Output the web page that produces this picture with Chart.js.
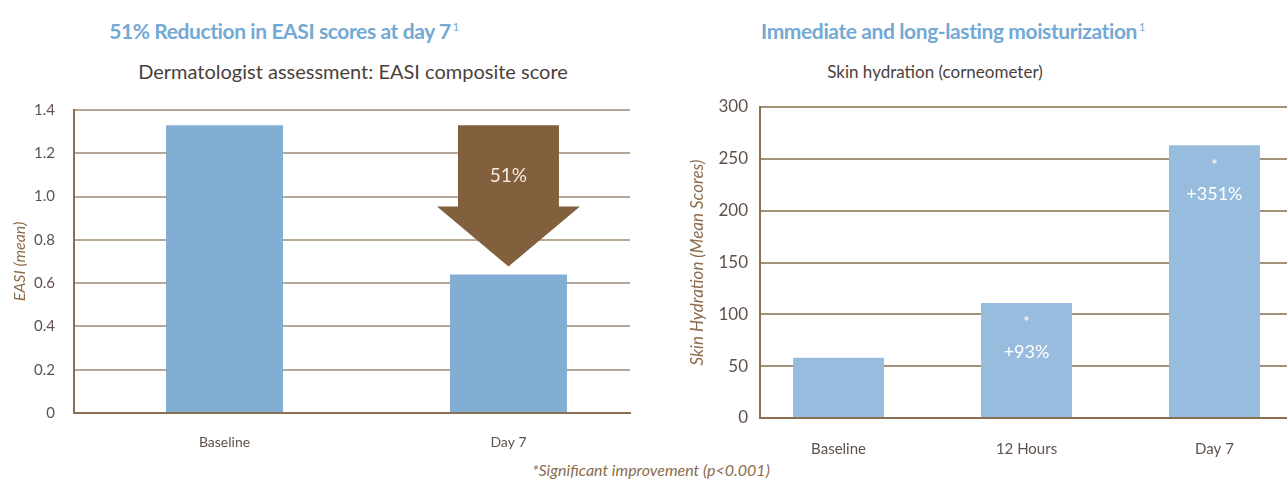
<!DOCTYPE html>
<html>
<head>
<meta charset="utf-8">
<script src="https://cdn.jsdelivr.net/npm/chart.js@4.4.1/dist/chart.umd.min.js"></script>
<style>
  body { margin: 0; background: #fff; width: 1287px; height: 479px; position: relative; overflow: hidden; font-family: Lato, "Open Sans", sans-serif; }
  .cv { position: absolute; top: 0; }
  .ttl { position: absolute; transform: translate(-50%, -50%); white-space: nowrap; color: #73a9d4; font-weight: bold; font-size: 21px; letter-spacing: -0.4px; }
  .ttl sup { font-size: 11px; font-weight: normal; vertical-align: 8px; margin-left: 2px; }
  .sub { position: absolute; transform: translate(-50%, -50%); white-space: nowrap; color: #4b3f3b; font-size: 20px; }
  .note { position: absolute; transform: translate(-50%, -50%); white-space: nowrap; color: #8b6b4c; font-size: 16px; font-style: italic; }
</style>
</head>
<body>
<div class="ttl" style="left:284px;top:30px">51% Reduction in EASI scores at day 7<sup>1</sup></div>
<div class="sub" style="left:353px;top:71px">Dermatologist assessment: EASI composite score</div>
<div class="ttl" style="left:953px;top:30px">Immediate and long-lasting moisturization<sup>1</sup></div>
<div class="sub" style="left:935px;top:71px;font-size:17px">Skin hydration (corneometer)</div>
<div class="note" style="left:651px;top:469px">*Significant improvement (p&lt;0.001)</div>

<div class="cv" style="left:0;width:640px;height:479px"><canvas id="easi"></canvas></div>
<div class="cv" style="left:640px;width:647px;height:479px"><canvas id="idra"></canvas></div>

<script>
// dati
var easiLabels = ['Baseline', 'Day 7'];
var easiValues = [1.33, 0.64];
var easiReduction = '51%';

var idraLabels = ['Baseline', '12 Hours', 'Day 7'];
var idraValues = [58, 111, 263];
var idraIncrease = ['', '+93%', '+351%'];
var idraStar = ['', '*', '*'];

var brown = '#8b6f52';
var tickColor = '#5f524c';

// freccia marrone sopra la barra Day 7
var arrowPlugin = {
    id: 'arrow',
    afterDatasetsDraw: function(chart) {
        var x = chart.scales.x, y = chart.scales.y, ctx = chart.ctx;
        var cx = x.getPixelForValue(1);
        var top = y.getPixelForValue(easiValues[0]);
        var tip = y.getPixelForValue(easiValues[1]) - 8;
        var neck = top + (tip - top) * 0.575;
        ctx.save();
        ctx.fillStyle = '#82603e';
        ctx.beginPath();
        ctx.moveTo(cx - 50.5, top);
        ctx.lineTo(cx + 50.5, top);
        ctx.lineTo(cx + 50.5, neck);
        ctx.lineTo(cx + 71.5, neck);
        ctx.lineTo(cx, tip);
        ctx.lineTo(cx - 71.5, neck);
        ctx.lineTo(cx - 50.5, neck);
        ctx.closePath();
        ctx.fill();
        ctx.fillStyle = '#f3ece4';
        ctx.font = '19px Lato';
        ctx.textAlign = 'center';
        ctx.textBaseline = 'middle';
        ctx.fillText(easiReduction, cx, top + 51);
        ctx.restore();
    }
};

// etichette bianche dentro le barre
var labelPlugin = {
    id: 'labels',
    afterDatasetsDraw: function(chart) {
        var x = chart.scales.x, y = chart.scales.y, ctx = chart.ctx;
        ctx.save();
        ctx.fillStyle = '#ffffff';
        ctx.textAlign = 'center';
        ctx.textBaseline = 'middle';
        for (var i = 0; i < idraValues.length; i++) {
            var cx = x.getPixelForValue(i);
            var top = y.getPixelForValue(idraValues[i]);
            ctx.font = '16px Lato';
            ctx.fillText(idraStar[i], cx, top + 19);
            ctx.font = '18px Lato';
            ctx.fillText(idraIncrease[i], cx, top + 49);
        }
        ctx.restore();
    }
};

function creaGrafico(id, labels, values, opts) {
    var punti = [];
    for (var i = 0; i < values.length; i++) {
        punti.push({x: i, y: values[i]});
    }
    return new Chart(document.getElementById(id), {
        type: 'bar',
        data: {
            datasets: [{
                data: punti,
                backgroundColor: opts.color,
                barPercentage: opts.barPct,
                categoryPercentage: 1
            }]
        },
        options: {
            responsive: true,
            maintainAspectRatio: false,
            animation: false,
            layout: {padding: {top: opts.padTop, right: opts.padRight, bottom: 0, left: 0}},
            plugins: {legend: {display: false}, tooltip: {enabled: false}},
            scales: {
                x: {
                    type: 'linear',
                    offset: false,
                    min: opts.xMin,
                    max: opts.xMax,
                    afterBuildTicks: function(s) {
                        s.ticks = labels.map(function(l, i) { return {value: i}; });
                    },
                    afterFit: function(s) { s.height = opts.xHeight; },
                    grid: {display: false, offset: false},
                    border: {display: true, color: brown, width: 2},
                    ticks: {
                        autoSkip: false,
                        maxRotation: 0,
                        padding: opts.xPad,
                        color: tickColor,
                        font: {family: 'Lato', size: opts.xFont},
                        callback: function(v) { return labels[v]; }
                    }
                },
                y: {
                    min: 0,
                    max: opts.yMax,
                    afterFit: function(s) { s.width = opts.yWidth; },
                    grid: {color: opts.gridColor, lineWidth: 2, drawTicks: false},
                    border: {color: brown, width: 2},
                    ticks: {
                        stepSize: opts.yStep,
                        padding: opts.yPad,
                        color: tickColor,
                        font: {family: 'Lato', size: opts.yFont},
                        callback: opts.yFmt
                    },
                    title: {
                        display: true,
                        text: opts.yTitle,
                        color: '#8b6b4c',
                        padding: {top: opts.titlePad, bottom: 0},
                        font: {family: 'Lato', size: opts.titleFont, style: 'italic'}
                    }
                }
            }
        },
        plugins: [opts.plugin]
    });
}

creaGrafico('easi', easiLabels, easiValues, {
    color: '#83aed4', barPct: 0.412, padTop: 110,
    xMin: -0.53, xMax: 1.428, xHeight: 66, xPad: 13, xFont: 14, padRight: 10,
    yMax: 1.4, yStep: 0.2, yWidth: 74, yPad: 19, yFont: 15,
    yFmt: function(v) { return v === 0 ? '0' : v.toFixed(1); },
    gridColor: '#b7a796', yTitle: 'EASI (mean)', titlePad: 10, titleFont: 16,
    plugin: arrowPlugin
});

creaGrafico('idra', idraLabels, idraValues, {
    color: '#97bcdd', barPct: 0.484, padTop: 107,
    xMin: -0.418, xMax: 2.386, xHeight: 61, xPad: 14, xFont: 15, padRight: 0,
    yMax: 300, yStep: 50, yWidth: 120, yPad: 12, yFont: 17,
    yFmt: function(v) { return v; },
    gridColor: '#a39079', yTitle: 'Skin Hydration (Mean Scores)', titlePad: 47, titleFont: 17,
    plugin: labelPlugin
});
</script>
</body>
</html>
